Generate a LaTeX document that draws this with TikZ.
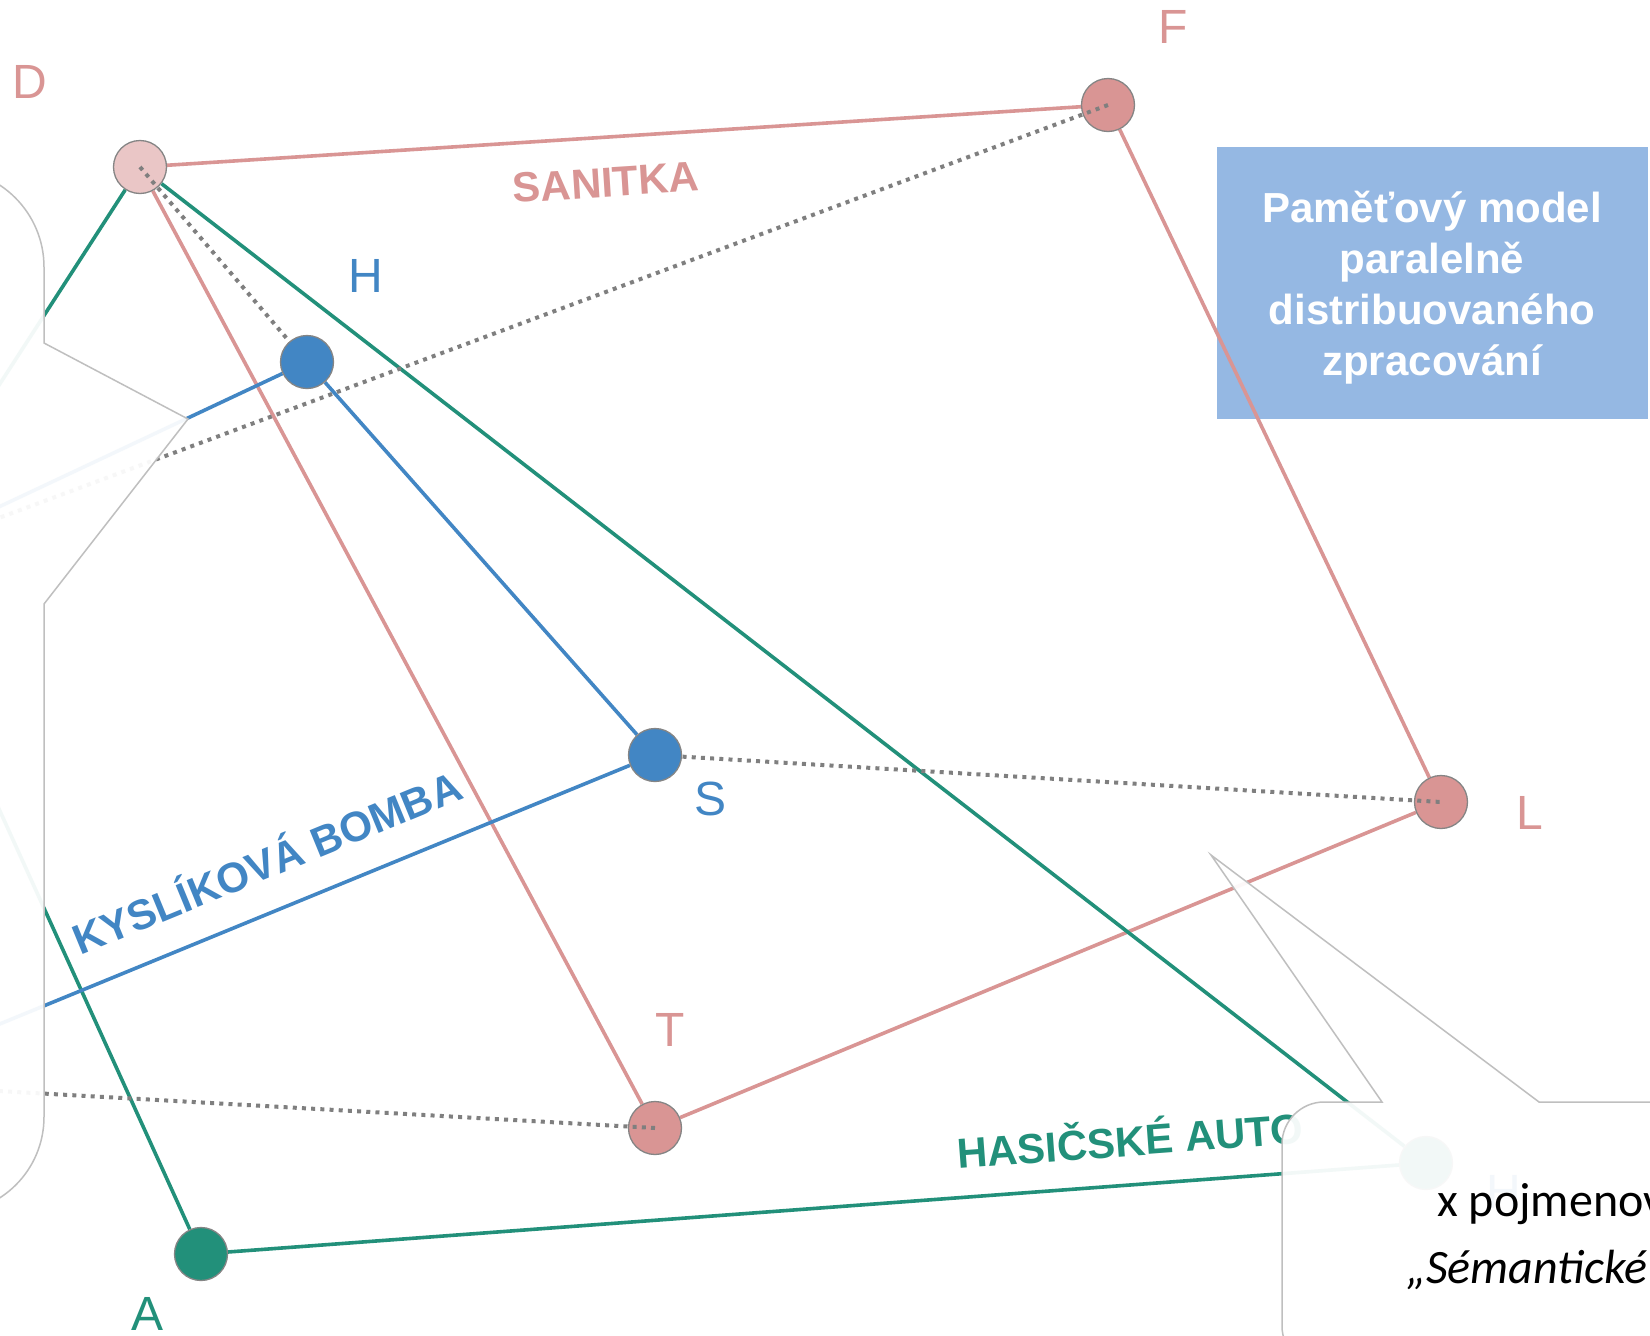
\documentclass[tikz,border=0pt]{standalone}
\usepackage{fontspec}
\setmainfont{Liberation Sans}
\newfontfamily\calfont{Carlito}
\definecolor{pinkc}{HTML}{D99594}
\definecolor{pinkl}{HTML}{EAC6C6}
\definecolor{bluec}{HTML}{4286C4}
\definecolor{greenc}{HTML}{22907A}
\definecolor{dotgray}{HTML}{7F7F7F}
\definecolor{nodeborder}{HTML}{858585}
\definecolor{callgray}{HTML}{BFBFBF}
\definecolor{boxblue}{HTML}{95B8E3}
\pgfdeclarelayer{boxlayer}
\pgfdeclarelayer{edgelayer}
\pgfdeclarelayer{dotlayer}
\pgfdeclarelayer{bluelayer}
\pgfdeclarelayer{toplayer}
\pgfsetlayers{boxlayer,edgelayer,main,dotlayer,bluelayer,toplayer}
\begin{document}
\begin{tikzpicture}[x=1pt,y=-1pt,
  vert/.style={circle,minimum size=53pt,inner sep=0pt,draw=nodeborder,line width=1.3pt},
  pinkline/.style={draw=pinkc,line width=3.6pt},
  greenline/.style={draw=greenc,line width=3.6pt},
  blueline/.style={draw=bluec,line width=3.6pt},
  dotline/.style={draw=dotgray,line width=4pt,dash pattern=on 4pt off 5.2pt},
  letter/.style={font=\fontsize{48}{58}\selectfont,inner sep=0pt},
  edgelabel/.style={font=\bfseries\fontsize{42}{50}\selectfont,inner sep=0pt,anchor=base},
  callout/.style={draw=callgray,line width=1.5pt,fill=white,fill opacity=0.94},
  boxtext/.style={font=\bfseries\fontsize{42}{50}\selectfont,text=white,inner sep=0pt,anchor=base},
  calloutext/.style={anchor=base west,inner sep=0pt,text=black}
]
\useasboundingbox (0,0) rectangle (1650,1336);

% hidden end points off the left edge
\coordinate (P1) at (-114,560);
\coordinate (P2) at (-144,1083);

\begin{pgfonlayer}{boxlayer}
  \fill[white] (0,0) rectangle (1650,1336);
  \node[fill=boxblue,minimum width=431pt,minimum height=272pt,inner sep=0pt] (pbox) at (1432.5,283) {};
  \node[boxtext] (b1) at (1432,222) {Paměťový model};
  \node[boxtext] (b2) at (1432,273) {paralelně};
  \node[boxtext] (b3) at (1432,324) {distribuovaného};
  \node[boxtext] (b4) at (1432,375) {zpracování};
\end{pgfonlayer}

% nodes
\node[vert,fill=pinkl] (D) at (140,167) {};
\node[vert,fill=pinkc] (F) at (1108,105) {};
\node[vert,fill=pinkc] (L) at (1441,802) {};
\node[vert,fill=pinkc] (T) at (655,1128) {};
\node[vert,fill=greenc] (A) at (201,1254) {};
\node[vert,fill=greenc] (U) at (1426,1163) {};
\begin{pgfonlayer}{bluelayer}
  \node[vert,fill=bluec] (H) at (307,362) {};
  \node[vert,fill=bluec] (S) at (655,755) {};
\end{pgfonlayer}

% solid connectors
\begin{pgfonlayer}{edgelayer}
  \draw[pinkline] (D) -- (F);
  \draw[pinkline] (D) -- (T);
  \draw[pinkline] (F) -- (L);
  \draw[pinkline] (L) -- (T);
  \draw[greenline] (D) -- (P1);
  \draw[greenline] (P1) -- (A);
  \draw[greenline] (D) -- (U);
  \draw[greenline] (A) -- (U);
  \draw[blueline] (H) -- (P1);
  \draw[blueline] (H) -- (S);
  \draw[blueline] (S) -- (P2);
\end{pgfonlayer}

% dotted connectors
\begin{pgfonlayer}{dotlayer}
  \draw[dotline] (D.center) -- (H.center);
  \draw[dotline] (F.center) -- (P1);
  \draw[dotline] (S.center) -- (L.center);
  \draw[dotline] (T.center) -- (P2);
\end{pgfonlayer}

\begin{pgfonlayer}{toplayer}
  % node letters
  \node[letter,text=pinkc] (lD) at (30,82) {D};
  \node[letter,text=bluec] (lH) at (366,276) {H};
  \node[letter,text=pinkc] (lF) at (1173,27) {F};
  \node[letter,text=bluec] (lS) at (711,799) {S};
  \node[letter,text=pinkc] (lT) at (670,1030) {T};
  \node[letter,text=pinkc] (lL) at (1530,813) {L};
  \node[letter,text=greenc] (lA) at (148,1314) {A};
  \node[letter,text=bluec] (lU) at (1504,1192) {H};
  % connector labels
  \node[edgelabel,text=pinkc,rotate=3.66] (san) at (607,197) {SANITKA};
  \node[edgelabel,text=bluec,rotate=22.3] (kys) at (273,877) {KYSLÍKOVÁ BOMBA};
  \node[edgelabel,text=greenc,rotate=4.24] (has) at (1131,1156) {HASIČSKÉ AUTO};
  % left callout
  \draw[callout] (-200,169) -- (-54,169) .. controls (0,169) and (44,213) .. (44,267)
     -- (44,343) -- (188,419) -- (44,604) -- (44,1117)
     .. controls (44,1170) and (1,1213) .. (-52,1213) -- (-200,1213) -- cycle;
  % right callout
  \draw[callout] (1324,1368) .. controls (1301,1368) and (1282,1349) .. (1282,1326)
     -- (1282,1144) .. controls (1282,1121) and (1301,1102) .. (1324,1102)
     -- (1382,1102) -- (1211,855) -- (1539,1102) -- (1700,1102) -- (1700,1368) -- cycle;
  \node[calloutext,font=\calfont\fontsize{48}{58}\selectfont] (x1) at (1437,1216) {x pojmenov};
  \node[calloutext,font=\calfont\itshape\fontsize{48}{58}\selectfont] (x2) at (1406,1283) {„Sémantické};
\end{pgfonlayer}
\end{tikzpicture}
\end{document}
